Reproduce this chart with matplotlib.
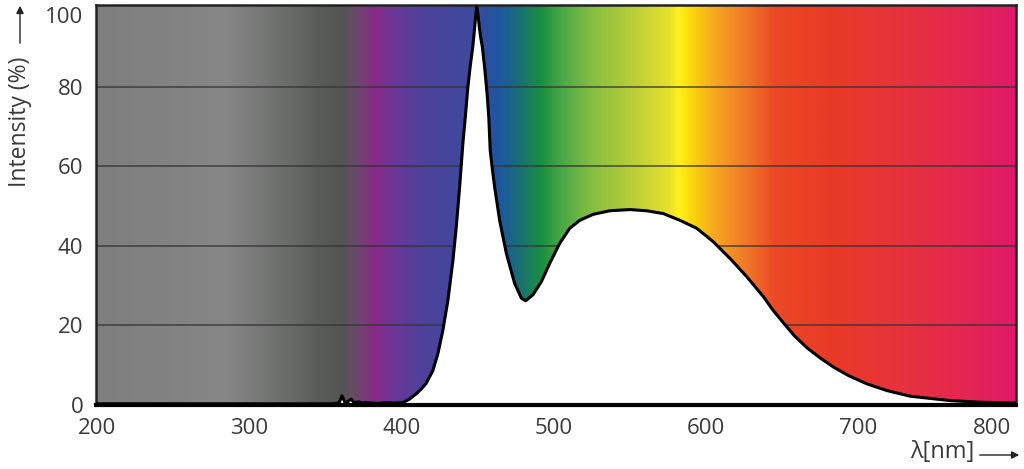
import numpy as np
import matplotlib
matplotlib.use("Agg")
import matplotlib.pyplot as plt
from matplotlib.colors import LinearSegmentedColormap
from matplotlib.patches import FancyArrowPatch

plt.rcParams['font.family'] = ['Open Sans', 'DejaVu Sans']

# ---- data ----
wavelength = [200, 300, 355, 359, 361, 363, 365, 367, 369, 372, 374, 376, 380, 385, 390,
              395, 400.9, 405, 409.7, 413, 416.2, 420.6, 423.9, 427.2, 430.5, 433.8, 436.0,
              438.2, 440.3, 441.9, 443.6, 445.3, 446.9, 448.0, 448.8, 449.5, 450.3, 451.3,
              452.2, 453.1, 454.6, 456.3, 457.4, 458.3, 459.8, 461.2, 464.5, 468.9, 474.3,
              478.8, 481.6, 486.4, 491.9, 497.4, 503.9, 510.5, 517.1, 525.9, 536.8, 550.0,
              561.0, 571.9, 582.9, 593.9, 604.8, 615.8, 626.8, 637.7, 644, 650.9, 658,
              666.2, 675, 683.8, 694, 705.7, 719, 734.2, 760.5, 780, 803]
intensity = [0.3, 0.3, 0.3, 0.5, 2.3, 0.6, 0.9, 1.5, 0.6, 0.8, 0.5, 0.6, 0.5, 0.4, 0.6,
             0.5, 0.6, 1.4, 2.8, 4.0, 5.4, 8.6, 12.8, 18.7, 26.2, 36.2, 44.6,
             54.6, 65.4, 72.1, 79.7, 85.5, 90.1, 94.5, 97.8, 100.0, 98.0, 94.5,
             92.0, 90.1, 85.0, 78.0, 72.1, 64.0, 59.0, 54.8, 46.4, 38.1, 30.6,
             26.8, 26.2, 27.7, 31.0, 35.6, 40.6, 44.4, 46.4, 47.9, 48.8, 49.1,
             48.8, 48.1, 46.4, 44.4, 41.0, 36.8, 32.2, 27.2, 23.8, 20.6, 17.4,
             14.4, 11.8, 9.5, 7.3, 5.3, 3.6, 2.2, 1.1, 0.7, 0.5]

# background spectrum colour stops (wavelength, colour)
bg_wl = [200, 285, 320, 345, 360, 370, 382, 395, 410, 430, 450, 462, 472, 482, 492,
         505, 525, 555, 575, 582, 590, 605, 625, 645, 680, 712, 757, 803]
bg_col = ['#7f7f7f', '#868686', '#6e706e', '#5a5c5a', '#535553', '#6a4a6a', '#8a2a88',
          '#6a3898', '#53409a', '#44469c', '#3c4a9c', '#1f55a2', '#1a6488', '#197a62',
          '#1a9040', '#4aa848', '#86be40', '#c0d038', '#e6e02e', '#fff21a', '#fbd80a',
          '#f6a820', '#f07a28', '#ec4a26', '#ea3a26', '#e83636', '#e52a4a', '#e01a6a']

xticks = [200, 300, 400, 500, 600, 700, 800]
yticks = [0, 20, 40, 60, 80, 100]

XMIN, XMAX = 199.5, 803.5
YMIN, YMAX = 0, 100.5

fig = plt.figure(figsize=(10.24, 4.69), dpi=100)
ax = fig.add_axes([96/1024, 1 - 405/469, (1016 - 96)/1024, (405 - 5)/469])

# gradient background
pos = [(w - bg_wl[0]) / (bg_wl[-1] - bg_wl[0]) for w in bg_wl]
cmap = LinearSegmentedColormap.from_list('spec', list(zip(pos, bg_col)), N=1024)
grad = np.linspace(0, 1, 1024).reshape(1, -1)
ax.imshow(grad, cmap=cmap, aspect='auto', extent=[bg_wl[0], bg_wl[-1], YMIN, YMAX],
          origin='lower', zorder=0, interpolation='bilinear')

for y in yticks[1:-1]:
    ax.axhline(y, color='#333333', lw=1.1, alpha=0.85, zorder=1)

ax.fill_between(wavelength, intensity, 0, color='white', zorder=2, lw=0)
ax.plot(wavelength, intensity, color='black', lw=2.2, zorder=3,
        solid_joinstyle='round', solid_capstyle='round')

ax.set_xlim(XMIN, XMAX)
ax.set_ylim(YMIN, YMAX)
ax.set_xticks(xticks)
ax.set_yticks(yticks)
ax.tick_params(length=0, labelsize=16, colors='#3a3a3a', pad=9)
for lab in ax.get_yticklabels():
    if lab.get_text() == '100':
        lab.set_va('top')
for lab in ax.get_xticklabels():
    if lab.get_text() == '800':
        lab.set_ha('right')

for s in ['left', 'right', 'top']:
    ax.spines[s].set_color('#222222')
    ax.spines[s].set_linewidth(1.8)
ax.spines['bottom'].set_color('black')
ax.spines['bottom'].set_linewidth(3.0)

# axis labels with arrows
fig.text(20/1024, 1 - 122/469, 'Intensity (%)', rotation=90, ha='center', va='center',
         fontsize=16.5, color='#3a3a3a')
fig.add_artist(FancyArrowPatch((20/1024, 1 - 46/469), (20/1024, 1 - 3/469),
               transform=fig.transFigure, arrowstyle='-|>', mutation_scale=11,
               color='#222222', lw=1.0))
fig.text(942/1024, 1 - 452/469, 'λ[nm]', ha='center', va='center', fontsize=17,
         color='#3a3a3a')
fig.add_artist(FancyArrowPatch((977/1024, 1 - 455/469), (1022/1024, 1 - 455/469),
               transform=fig.transFigure, arrowstyle='-|>', mutation_scale=11,
               color='#222222', lw=1.0))

fig.savefig('out.png', dpi=100)
